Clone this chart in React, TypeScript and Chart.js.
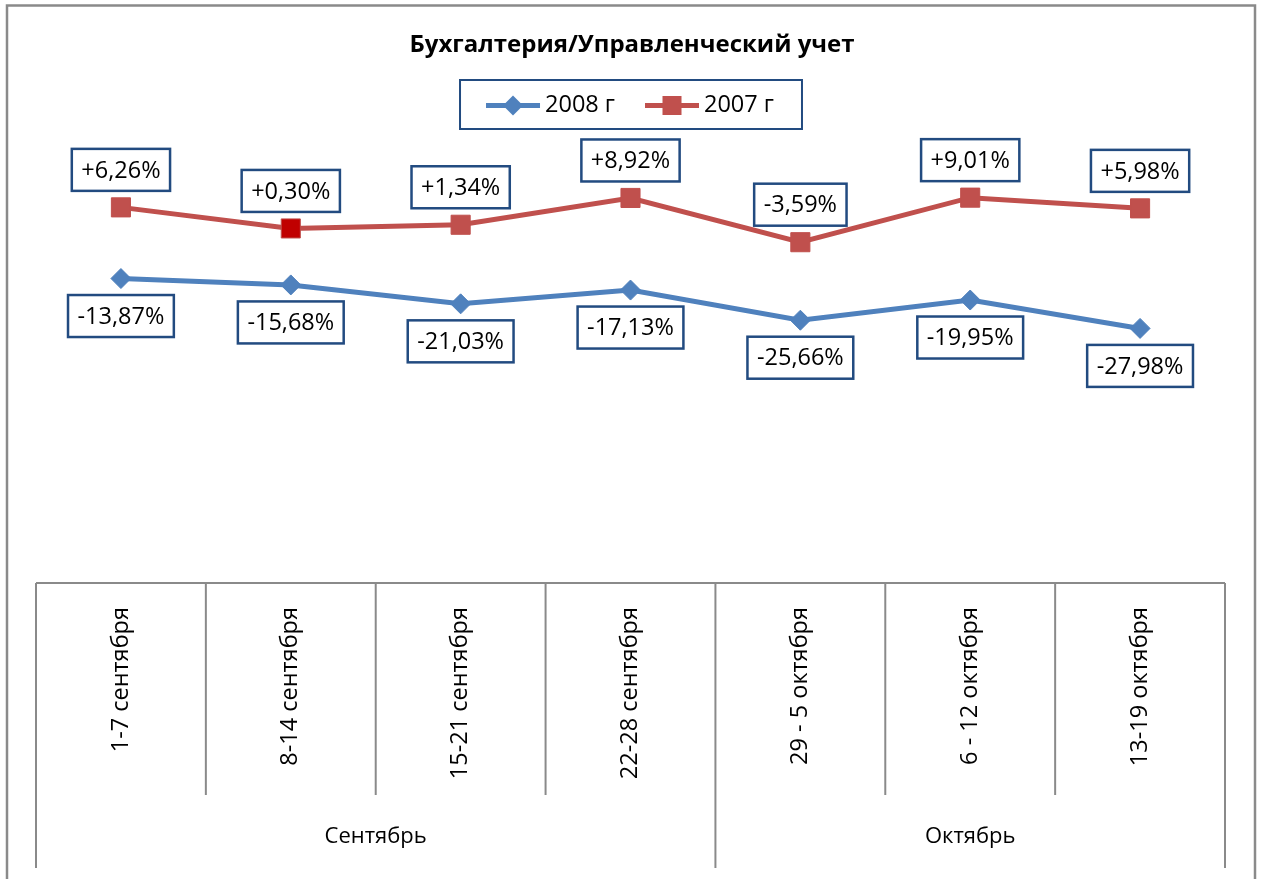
import React, { useEffect, useRef } from 'react';
import { Chart, registerables } from 'chart.js';

Chart.register(...registerables);

// ---- data ----
const weekLabels = [
  '1-7 сентября',
  '8-14 сентября',
  '15-21 сентября',
  '22-28 сентября',
  '29 - 5 октября',
  '6 - 12 октября',
  '13-19 октября',
];
const monthLabels = ['Сентябрь', 'Октябрь'];
const monthSpans = [4, 3];
const series2008 = [-13.87, -15.68, -21.03, -17.13, -25.66, -19.95, -27.98];
const series2007 = [6.26, 0.3, 1.34, 8.92, -3.59, 9.01, 5.98];
const seriesNames = ['2008 г', '2007 г'];
const titleText = 'Бухгалтерия/Управленческий учет';
const yMin = -100;
const yMax = 20;

// ---- style ----
const FONT = '"Open Sans", "Noto Sans", sans-serif';
const BLUE = '#4F81BD';
const RED = '#C0504D';
const DARK_RED = '#C00000';
const NAVY = '#224B80';
const GRAY = '#8A8A8A';
const highlightIndex2007 = 1;

const fmt = (v: number) =>
  (v > 0 ? '+' : v < 0 ? '-' : '') + Math.abs(v).toFixed(2).replace('.', ',') + '%';

const decorPlugin = {
  id: 'decor',
  beforeDraw(chart: any) {
    const ctx = chart.ctx;
    ctx.save();
    ctx.fillStyle = '#ffffff';
    ctx.fillRect(0, 0, chart.width, chart.height);
    ctx.strokeStyle = GRAY;
    ctx.lineWidth = 2.5;
    ctx.strokeRect(7, 5.5, chart.width - 14, chart.height + 20);
    ctx.restore();
  },
  afterDatasetsDraw(chart: any) {
    const ctx = chart.ctx;
    ctx.save();
    ctx.font = `23.5px ${FONT}`;
    ctx.textAlign = 'center';
    ctx.textBaseline = 'middle';
    chart.data.datasets.forEach((ds: any, di: number) => {
      const meta = chart.getDatasetMeta(di);
      const above = di === 1;
      meta.data.forEach((pt: any, i: number) => {
        const txt = fmt(ds.data[i]);
        const w = ctx.measureText(txt).width + 19;
        const h = 42;
        const top = above ? pt.y - 16.5 - h : pt.y + 16.5;
        const left = pt.x - w / 2;
        ctx.fillStyle = '#ffffff';
        ctx.fillRect(left, top, w, h);
        ctx.strokeStyle = NAVY;
        ctx.lineWidth = 2.5;
        ctx.strokeRect(left, top, w, h);
        ctx.fillStyle = '#000000';
        ctx.fillText(txt, pt.x, top + h / 2 + 1);
      });
    });
    ctx.restore();
  },
  afterDraw(chart: any) {
    const ctx = chart.ctx;
    const ca = chart.chartArea;
    const xs = chart.scales.x;
    const cx = chart.width / 2;
    ctx.save();

    // title
    ctx.fillStyle = '#000000';
    ctx.font = `bold 24px ${FONT}`;
    ctx.textAlign = 'center';
    ctx.textBaseline = 'middle';
    ctx.fillText(titleText, cx + 1, 45);

    // legend
    ctx.font = `23.5px ${FONT}`;
    const lineLen = 54;
    const gapText = 5;
    const gapItem = 30;
    const widths = seriesNames.map((s) => ctx.measureText(s).width);
    const total = widths.reduce((a, w) => a + lineLen + gapText + w, 0) + gapItem;
    const boxW = total + 54;
    const boxL = cx - boxW / 2;
    const boxT = 80;
    const boxH = 49;
    ctx.strokeStyle = NAVY;
    ctx.lineWidth = 2;
    ctx.strokeRect(boxL, boxT, boxW, boxH);
    let x = boxL + 26;
    const ly = boxT + boxH / 2 + 1;
    chart.data.datasets.forEach((ds: any, di: number) => {
      ctx.strokeStyle = ds.borderColor;
      ctx.lineWidth = 5;
      ctx.beginPath();
      ctx.moveTo(x, ly);
      ctx.lineTo(x + lineLen, ly);
      ctx.stroke();
      ctx.fillStyle = ds.borderColor;
      const mx = x + lineLen / 2;
      if (di === 0) {
        ctx.beginPath();
        ctx.moveTo(mx, ly - 10);
        ctx.lineTo(mx + 10, ly);
        ctx.lineTo(mx, ly + 10);
        ctx.lineTo(mx - 10, ly);
        ctx.closePath();
        ctx.fill();
      } else {
        ctx.fillRect(mx - 9.5, ly - 9.5, 19, 19);
      }
      ctx.fillStyle = '#000000';
      ctx.textAlign = 'left';
      ctx.fillText(seriesNames[di], x + lineLen + gapText, ly);
      x += lineLen + gapText + widths[di] + gapItem;
    });

    // category axis (two-level)
    const n = weekLabels.length;
    const step = xs.getPixelForValue(1) - xs.getPixelForValue(0);
    const b0 = xs.getPixelForValue(0) - step / 2;
    const bounds: number[] = [];
    for (let i = 0; i <= n; i++) bounds.push(b0 + i * step);
    const groupBounds: number[] = [0];
    monthSpans.reduce((acc, s) => {
      groupBounds.push(acc + s);
      return acc + s;
    }, 0);

    ctx.strokeStyle = GRAY;
    ctx.lineWidth = 2;
    ctx.beginPath();
    ctx.moveTo(bounds[0], ca.bottom);
    ctx.lineTo(bounds[n], ca.bottom);
    ctx.stroke();
    bounds.forEach((bx, i) => {
      const len = groupBounds.includes(i) ? 285 : 212;
      ctx.beginPath();
      ctx.moveTo(bx, ca.bottom);
      ctx.lineTo(bx, ca.bottom + len);
      ctx.stroke();
    });

    ctx.fillStyle = '#000000';
    ctx.font = `23.5px ${FONT}`;
    weekLabels.forEach((lab, i) => {
      ctx.save();
      ctx.translate(xs.getPixelForValue(i), ca.bottom + 24);
      ctx.rotate(-Math.PI / 2);
      ctx.textAlign = 'right';
      ctx.textBaseline = 'middle';
      ctx.fillText(lab, 0, 0);
      ctx.restore();
    });

    ctx.font = `22px ${FONT}`;
    ctx.textAlign = 'center';
    ctx.textBaseline = 'middle';
    monthLabels.forEach((lab, g) => {
      const mx = (bounds[groupBounds[g]] + bounds[groupBounds[g + 1]]) / 2;
      ctx.fillText(lab, mx, ca.bottom + 254);
    });

    ctx.restore();
  },
};

export default function App() {
  const ref = useRef<HTMLCanvasElement | null>(null);
  useEffect(() => {
    if (!ref.current) return;
    const chart = new Chart(ref.current, {
      type: 'line',
      data: {
        labels: weekLabels,
        datasets: [
          {
            label: seriesNames[0],
            data: series2008,
            borderColor: BLUE,
            backgroundColor: BLUE,
            pointBackgroundColor: BLUE,
            pointBorderColor: BLUE,
            pointStyle: 'rectRot',
            pointRadius: 10,
            pointBorderWidth: 1,
            borderWidth: 5,
            tension: 0,
          },
          {
            label: seriesNames[1],
            data: series2007,
            borderColor: RED,
            backgroundColor: RED,
            pointBackgroundColor: series2007.map((_, i) => (i === highlightIndex2007 ? DARK_RED : RED)),
            pointBorderColor: RED,
            pointStyle: 'rect',
            pointRadius: 13.5,
            pointBorderWidth: 1,
            borderWidth: 5,
            tension: 0,
          },
        ],
      },
      options: {
        animation: false,
        responsive: false,
        devicePixelRatio: 1,
        layout: { padding: { left: 36, right: 37, top: 158.8, bottom: 296 } },
        plugins: {
          legend: { display: false },
          title: { display: false },
          tooltip: { enabled: false },
        },
        scales: {
          x: { type: 'category', offset: true, display: false },
          y: { min: yMin, max: yMax, display: false },
        },
      },
      plugins: [decorPlugin],
    });
    return () => chart.destroy();
  }, []);
  return (
    <div style={{ position: 'absolute', left: 0, top: 0, width: 1262, height: 879 }}>
      <canvas ref={ref} width={1262} height={879} style={{ display: 'block' }} />
    </div>
  );
}
